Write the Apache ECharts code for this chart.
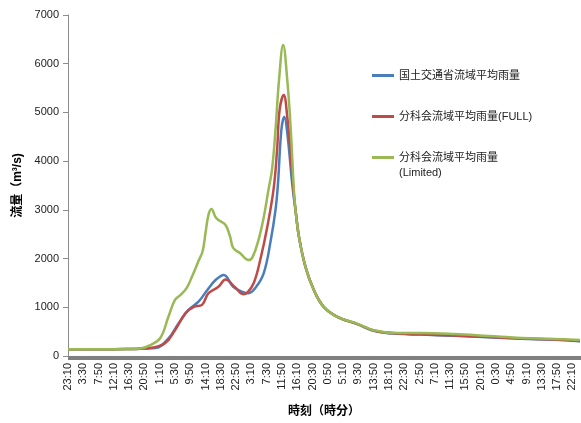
<!DOCTYPE html>
<html>
<head>
<meta charset="utf-8">
<script src="https://cdn.jsdelivr.net/npm/echarts@6/dist/echarts.min.js"></script>
<style>
html,body{margin:0;padding:0;background:#fff;}
#c{width:581px;height:423px;}
</style>
</head>
<body>
<div id="c"></div>
<script>
// 10-minute time steps starting at 23:10
const startMinutes = 23 * 60 + 10;
const stepMinutes = 10;
const categoryCount = 872;
const categories = [];
for (let i = 0; i < categoryCount; i++) {
  const m = (startMinutes + i * stepMinutes) % 1440;
  categories.push(Math.floor(m / 60) + ':' + String(m % 60).padStart(2, '0'));
}

const seriesNames = ['国土交通省流域平均雨量', '分科会流域平均雨量(FULL)', '分科会流域平均雨量(Limited)'];

// [category index, discharge m3/s]
const mlitData = [
  [0,140],[60,140],[106,145],[123,150],[140,160],[148,162],[171,360],[188,670],[205,945],
  [222,1115],[237,1355],[251,1560],[265,1665],[281,1420],[298,1310],[307,1290],[319,1400],
  [333,1700],[345,2380],[353,3000],[357,3500],[363,4640],[368,4910],[373,4580],[382,3470],
  [387,3000],[393,2440],[404,1830],[418,1360],[435,1010],[459,800],[493,650],[520,520],
  [561,455],[600,440],[657,415],[715,385],[771,355],[827,335],[871,305]
];
const fullData = [
  [0,140],[60,140],[106,145],[123,150],[140,165],[165,260],[182,530],[200,880],[214,1010],
  [228,1050],[239,1290],[256,1420],[268,1570],[285,1400],[298,1270],[305,1300],[316,1500],
  [327,1970],[339,2650],[350,3450],[356,4290],[360,5050],[367,5360],[373,4910],[379,4090],
  [383,3470],[387,3000],[393,2440],[404,1830],[418,1360],[435,1010],[459,800],[493,655],
  [520,525],[561,460],[600,445],[657,420],[715,390],[771,360],[827,340],[871,310]
];
const limitedData = [
  [0,140],[60,140],[106,145],[123,155],[140,225],[157,370],[171,810],[182,1150],[192,1260],
  [202,1400],[211,1630],[222,1950],[229,2150],[234,2530],[239,2900],[244,3020],[251,2850],
  [256,2790],[268,2690],[276,2440],[281,2220],[293,2110],[307,1970],[314,2030],[324,2380],
  [333,2850],[341,3410],[347,3820],[353,4640],[359,5670],[366,6386],[373,5670],[379,4640],
  [384,3470],[387,3000],[393,2440],[404,1830],[418,1360],[435,1010],[459,800],[493,660],
  [520,530],[561,470],[600,470],[657,450],[715,410],[771,370],[827,350],[871,330]
];

const colors = ['#4a7ebb', '#be4b48', '#98b954'];
const font = '"Liberation Sans", "Noto Sans CJK JP", sans-serif';

const chart = echarts.init(document.getElementById('c'));
chart.setOption({
  animation: false,
  color: colors,
  grid: { left: 68, right: 1, top: 15, bottom: 67, containLabel: false },
  legend: {
    orient: 'vertical',
    left: 372,
    top: 70,
    padding: 0,
    itemGap: 30,
    itemWidth: 22,
    itemHeight: 3,
    icon: 'rect',
    itemStyle: { borderWidth: 0 },
    textStyle: { fontSize: 11, color: '#222', fontFamily: font },
    formatter: function (name) { return name.replace('(Limited)', ''); },
    data: seriesNames
  },
  graphic: [{
    type: 'text', left: 399, top: 167,
    style: { text: '(Limited)', fontSize: 11, fill: '#222', fontFamily: font }
  }],
  xAxis: {
    type: 'category',
    data: categories,
    boundaryGap: false,
    name: '時刻（時分）',
    nameLocation: 'middle',
    nameGap: 50,
    nameTextStyle: { fontSize: 12, fontWeight: 'bold', color: '#000', fontFamily: font },
    axisLine: { lineStyle: { color: '#8c8c8c', width: 1 } },
    axisTick: { interval: 0, length: 4, lineStyle: { color: '#7f7f7f' } },
    axisLabel: { interval: 25, rotate: 90, fontSize: 11, color: '#222', fontFamily: font, margin: 7 },
    splitLine: { show: false }
  },
  yAxis: {
    type: 'value',
    min: 0, max: 7000, interval: 1000,
    name: '流量（m³/s)',
    nameLocation: 'middle',
    nameGap: 40,
    nameTextStyle: { fontSize: 12, fontWeight: 'bold', color: '#000', fontFamily: font },
    axisLine: { show: true, lineStyle: { color: '#8c8c8c' } },
    axisTick: { show: true, length: 5, lineStyle: { color: '#8c8c8c' } },
    axisLabel: { fontSize: 11, color: '#222', fontFamily: font, margin: 9, formatter: function (v) { return String(v); } },
    splitLine: { show: false }
  },
  series: [
    { name: seriesNames[0], type: 'line', data: mlitData, smooth: 0.4, symbol: 'none', lineStyle: { width: 2.5 }, z: 3 },
    { name: seriesNames[1], type: 'line', data: fullData, smooth: 0.4, symbol: 'none', lineStyle: { width: 2.5 }, z: 4 },
    { name: seriesNames[2], type: 'line', data: limitedData, smooth: 0.4, symbol: 'none', lineStyle: { width: 2.5 }, z: 5 }
  ]
});
</script>
</body>
</html>
